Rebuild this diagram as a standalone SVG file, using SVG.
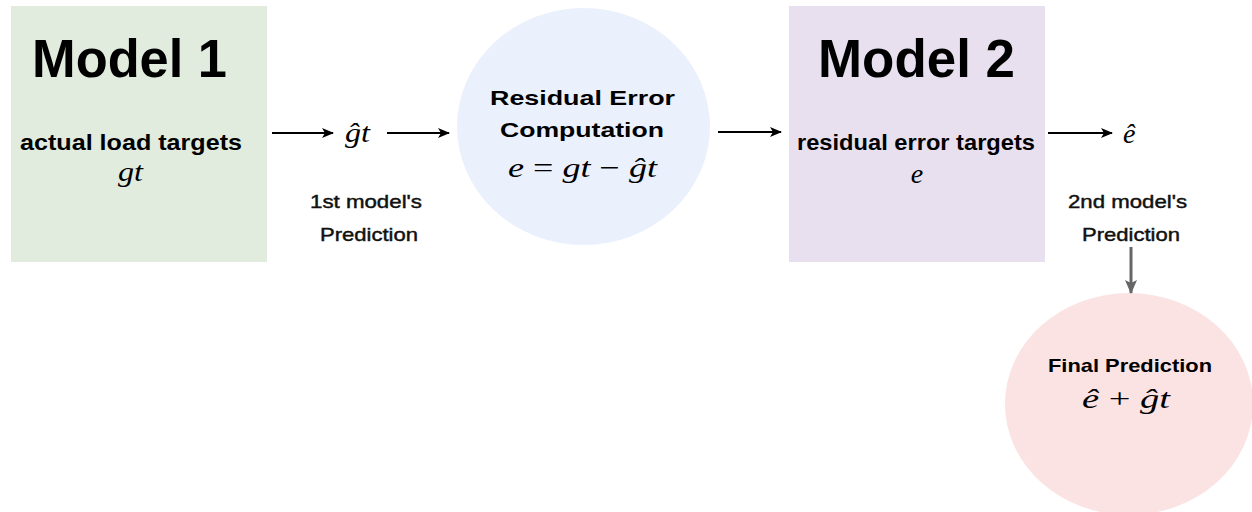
<svg xmlns="http://www.w3.org/2000/svg" width="1252" height="512" viewBox="0 0 1252 512">
<style>
.sans{font-family:"Liberation Sans",Arial,sans-serif;font-weight:bold;fill:#000;}
.lblf{font-family:"Liberation Sans",Arial,sans-serif;font-weight:normal;fill:#111;stroke:#111;stroke-width:0.45;font-size:19px;}
.math{font-family:"Liberation Serif","Times New Roman",serif;font-style:italic;fill:#000;font-size:28px;}
.title{font-size:54px;}
.sub{font-size:22px;}
.conn{stroke:#000;stroke-width:2;fill:none;}
.connGray{stroke:#666;stroke-width:3;fill:none;}
</style>
<defs>
<marker id="ah" markerUnits="userSpaceOnUse" markerWidth="12" markerHeight="10" refX="11" refY="5" orient="auto">
<path d="M0,0 L12,5 L0,10 L3,5 z" fill="#000"/>
</marker>
<marker id="ahg" markerUnits="userSpaceOnUse" markerWidth="14" markerHeight="12" refX="13" refY="6" orient="auto">
<path d="M0,0 L14,6 L0,12 L3,6 z" fill="#666"/>
</marker>
</defs>
<rect width="1252" height="512" fill="#fff"/>

<g id="model1">
<rect x="11" y="6" width="256" height="256" fill="#e1ecdf"/>
<text class="sans title" x="32" y="77" textLength="195" lengthAdjust="spacingAndGlyphs">Model 1</text>
<text class="sans sub" x="20" y="150" textLength="222" lengthAdjust="spacingAndGlyphs">actual load targets</text>
<text class="math" x="118" y="181" textLength="25" lengthAdjust="spacingAndGlyphs">gt</text>
</g>

<g id="pred1">
<text class="math" x="345" y="142" textLength="25" lengthAdjust="spacingAndGlyphs">ĝt</text>
<text class="lblf" x="310" y="208" textLength="112" lengthAdjust="spacingAndGlyphs">1st model's</text>
<text class="lblf" x="320" y="241" textLength="98" lengthAdjust="spacingAndGlyphs">Prediction</text>
</g>

<g id="residual">
<ellipse cx="583.5" cy="126.5" rx="126.5" ry="118.5" fill="#eaf1fc"/>
<text class="sans" font-size="21" x="490" y="105" textLength="185" lengthAdjust="spacingAndGlyphs">Residual Error</text>
<text class="sans" font-size="21" x="500" y="137" textLength="164" lengthAdjust="spacingAndGlyphs">Computation</text>
<text class="math" x="508" y="177" textLength="149" lengthAdjust="spacingAndGlyphs">e <tspan font-style="normal">=</tspan> gt <tspan font-style="normal">−</tspan> ĝt</text>
</g>

<g id="model2">
<rect x="789" y="6" width="256" height="256" fill="#e8e0ef"/>
<text class="sans title" x="818" y="77" textLength="197" lengthAdjust="spacingAndGlyphs">Model 2</text>
<text class="sans sub" x="797" y="150" textLength="238" lengthAdjust="spacingAndGlyphs">residual error targets</text>
<text class="math" x="917" y="183" text-anchor="middle">e</text>
</g>

<g id="pred2">
<text class="math" x="1123" y="143">ê</text>
<text class="lblf" x="1068" y="208" textLength="119" lengthAdjust="spacingAndGlyphs">2nd model's</text>
<text class="lblf" x="1082" y="241" textLength="98" lengthAdjust="spacingAndGlyphs">Prediction</text>
</g>

<g id="final">
<ellipse cx="1129" cy="404" rx="124" ry="111" fill="#fbe3e3"/>
<text class="sans" font-size="19" x="1048" y="372" textLength="164" lengthAdjust="spacingAndGlyphs">Final Prediction</text>
<text class="math" x="1082" y="408" textLength="88" lengthAdjust="spacingAndGlyphs">ê <tspan font-style="normal">+</tspan> ĝt</text>
</g>

<g id="connectors">
<line class="conn" x1="272" y1="133" x2="333" y2="133" marker-end="url(#ah)"/>
<line class="conn" x1="387" y1="133" x2="449" y2="133" marker-end="url(#ah)"/>
<line class="conn" x1="718" y1="132" x2="781" y2="132" marker-end="url(#ah)"/>
<line class="conn" x1="1048" y1="133" x2="1112" y2="133" marker-end="url(#ah)"/>
<line class="connGray" x1="1131" y1="247" x2="1131" y2="293" marker-end="url(#ahg)"/>
</g>
</svg>
